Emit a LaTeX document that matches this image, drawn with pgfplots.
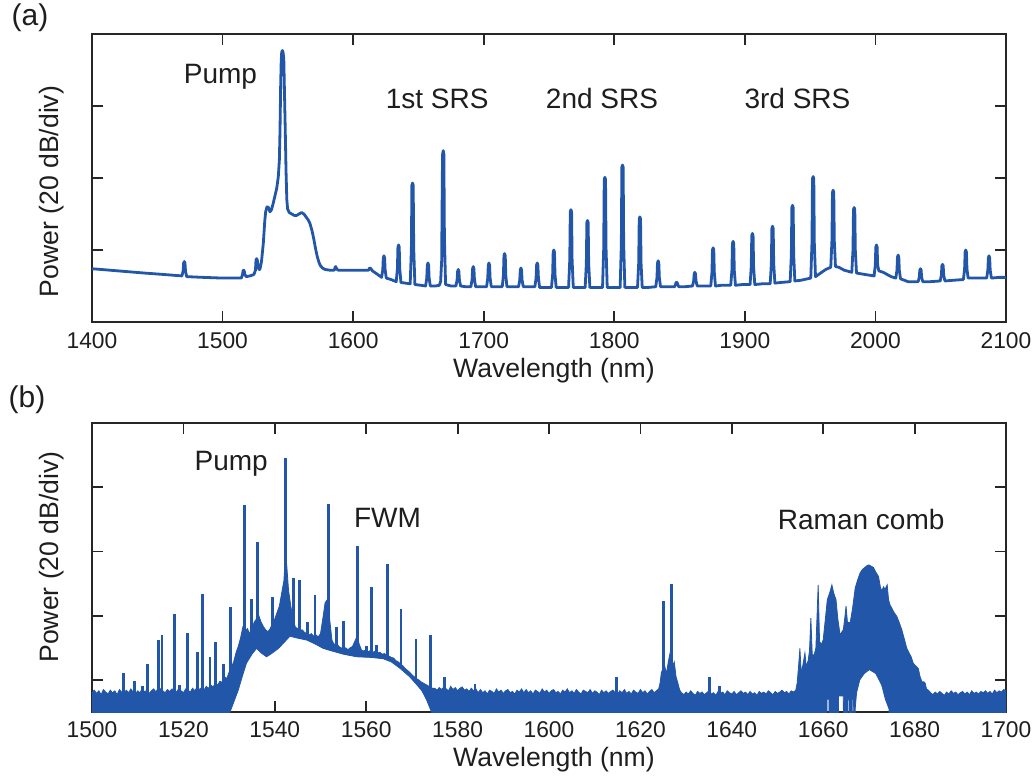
\documentclass[border=0pt]{standalone}
\usepackage{fontspec}
\setmainfont{Liberation Sans}
\usepackage{pgfplots}
\pgfplotsset{compat=1.18}
\definecolor{lc}{RGB}{34,86,168}
\definecolor{axc}{RGB}{38,38,38}
\definecolor{txc}{RGB}{30,30,30}
\begin{document}
\begin{tikzpicture}
\useasboundingbox (-46pt,-33pt) rectangle (470.5pt,356pt);
\pgfplotsset{myax/.style={scale only axis, width=457pt,
  axis line style={draw=axc,line width=1pt},
  tick style={draw=axc,line width=0.9pt},
  tick align=inside, major tick length=5.5pt, minor tick num=0,
  yticklabels={},
  ticklabel style={font=\fontsize{11.4}{13}\selectfont, text=txc},
  /pgf/number format/assume math mode=true,
  /pgf/number format/1000 sep={},
  clip=true}}
% ---------------- panel (a)
\begin{axis}[myax, at={(0,195pt)}, height=144pt,
  xmin=1400, xmax=2100, ymin=0, ymax=4,
  xtick={1400,1500,...,2100}, ytick={1,2,3},
  xticklabel style={anchor=base, yshift=-13pt}]
\addplot[lc, line width=1.4pt, line join=round] coordinates {
(1400,0.74) (1420,0.71) (1440,0.68) (1455,0.66) (1468.9,0.64)
(1469.8,0.71) (1470.2,0.82) (1470.7,0.84) (1471.2,0.82) (1471.6,0.71) (1472.5,0.63)
(1485,0.62) (1500,0.61) (1514.4,0.61)
(1515.3,0.66) (1515.7,0.71) (1516.2,0.72) (1516.7,0.70) (1517.1,0.66) (1518,0.63)
(1521,0.64) (1524.0,0.66) (1525.2,0.72) (1525.6,0.86) (1526.1,0.88) (1526.6,0.86) (1527.1,0.78) (1527.8,0.73) (1528.6,0.73)
(1529.8,0.84) (1531.2,1.09) (1532.3,1.40) (1533.0,1.53) (1534.0,1.60) (1535.2,1.59) (1536.3,1.53) (1537.5,1.56) (1538.8,1.65) (1540.1,1.75) (1541.5,1.86) (1542.7,2.02) (1543.5,2.25) (1544.0,2.67) (1544.5,3.30) (1544.9,3.62) (1545.3,3.75) (1545.8,3.77) (1546.3,3.75) (1546.9,3.65) (1547.4,3.20) (1548.0,2.67) (1548.6,2.10) (1549.2,1.70) (1549.8,1.57) (1551.1,1.52) (1553.0,1.50) (1555.0,1.48) (1556.7,1.48) (1558.5,1.50) (1560.5,1.52) (1562.3,1.50) (1563.9,1.46) (1565.5,1.42) (1566.9,1.37) (1568.5,1.27) (1570.0,1.14) (1571.2,1.02) (1572.5,0.91) (1573.8,0.83) (1575.0,0.78) (1576.5,0.75) (1578.4,0.73) (1582,0.72) (1585.6,0.72)
(1586.2,0.76) (1586.7,0.77) (1587.3,0.74) (1588.5,0.72)
(1600,0.72) (1611.8,0.72) (1612.6,0.75) (1613.4,0.745) (1614.8,0.71) (1618,0.67) (1621.8,0.62)
(1622.7,0.725) (1623.1,0.89) (1623.6,0.92) (1624.1,0.89) (1624.5,0.725) (1625.4,0.61)
(1629,0.59) (1633,0.56)
(1633.9,0.74) (1634.3,1.04) (1634.8,1.07) (1635.3,1.04) (1635.7,0.74) (1636.6,0.55)
(1640,0.54) (1643.7,0.53)
(1644.6,1.01) (1645.0,1.90) (1645.5,1.93) (1646.0,1.90) (1646.4,1.01) (1647.3,0.52)
(1652,0.51) (1655.5,0.50)
(1656.4,0.61) (1656.8,0.79) (1657.3,0.82) (1657.8,0.79) (1658.2,0.61) (1659.1,0.50)
(1663,0.50) (1666.0,0.51) (1667.0,0.56)
(1667.8,0.85) (1668.3,2.0) (1668.5,2.33) (1669.0,2.38) (1669.5,2.33) (1669.9,1.17) (1670.8,0.52)
(1675,0.50) (1678.7,0.50)
(1679.6,0.58) (1680.0,0.70) (1680.5,0.73) (1681.0,0.70) (1681.4,0.58) (1682.3,0.50)
(1686,0.49) (1690.2,0.49)
(1691.1,0.59) (1691.5,0.74) (1692.0,0.77) (1692.5,0.74) (1692.9,0.59) (1693.8,0.49)
(1698,0.49) (1702.2,0.49)
(1703.1,0.61) (1703.5,0.79) (1704.0,0.82) (1704.5,0.79) (1704.9,0.61) (1705.8,0.49)
(1710,0.49) (1714.2,0.49)
(1715.1,0.65) (1715.5,0.92) (1716,0.95) (1716.5,0.92) (1716.9,0.65) (1717.8,0.49)
(1722,0.49) (1726.7,0.49)
(1727.6,0.58) (1728,0.72) (1728.5,0.75) (1729,0.72) (1729.4,0.58) (1730.3,0.49)
(1735,0.49) (1739.2,0.49)
(1740.1,0.61) (1740.5,0.79) (1741,0.82) (1741.5,0.79) (1741.9,0.61) (1742.8,0.48)
(1747,0.48) (1751.9,0.48)
(1752.8,0.66) (1753.2,0.97) (1753.7,1.0) (1754.2,0.97) (1754.6,0.66) (1755.5,0.48)
(1760,0.48) (1765,0.48)
(1765.9,0.86) (1766.3,1.53) (1766.8,1.56) (1767.3,1.53) (1767.7,0.86) (1768.6,0.48)
(1773,0.48) (1777.7,0.48)
(1778.6,0.81) (1779,1.38) (1779.5,1.41) (1780,1.38) (1780.4,0.81) (1781.3,0.48)
(1786,0.48) (1791,0.48)
(1791.9,1.02) (1792.3,1.98) (1792.8,2.01) (1793.3,1.98) (1793.7,1.02) (1794.6,0.48)
(1800,0.48) (1804.5,0.48)
(1805.4,1.08) (1805.8,2.15) (1806.3,2.18) (1806.8,2.15) (1807.2,1.08) (1808.1,0.48)
(1813,0.48) (1817.8,0.48)
(1818.7,0.82) (1819.1,1.43) (1819.6,1.46) (1820.1,1.43) (1820.5,0.82) (1821.4,0.48)
(1826,0.48) (1831.8,0.49)
(1832.7,0.62) (1833.1,0.82) (1833.6,0.85) (1834.1,0.82) (1834.5,0.62) (1835.4,0.49)
(1840,0.49) (1846.2,0.49)
(1846.9,0.52) (1847.3,0.55) (1848.1,0.55) (1848.6,0.52) (1849.4,0.49)
(1854,0.49) (1859.9,0.50)
(1860.8,0.57) (1861.2,0.67) (1861.7,0.69) (1862.2,0.67) (1862.6,0.57) (1863.5,0.50)
(1868,0.50) (1873.9,0.50)
(1874.8,0.69) (1875.2,1.0) (1875.7,1.03) (1876.2,1.0) (1876.6,0.69) (1877.5,0.50)
(1882,0.51) (1889.2,0.51)
(1890.1,0.72) (1890.5,1.09) (1891,1.12) (1891.5,1.09) (1891.9,0.72) (1892.8,0.51)
(1898,0.52) (1904,0.52)
(1904.9,0.77) (1905.3,1.2) (1905.8,1.23) (1906.3,1.2) (1906.7,0.77) (1907.6,0.52)
(1913,0.53) (1919.4,0.53)
(1920.3,0.81) (1920.7,1.3) (1921.2,1.33) (1921.7,1.3) (1922.1,0.81) (1923,0.54)
(1928,0.55) (1934.7,0.56)
(1935.6,0.93) (1936,1.59) (1936.5,1.62) (1937,1.59) (1937.4,0.93) (1938.3,0.57)
(1943,0.58) (1948,0.60) (1950.5,0.61)
(1951.4,1.1) (1951.8,1.99) (1952.3,2.02) (1952.8,1.99) (1953.2,1.1) (1954.1,0.63)
(1958,0.68) (1962,0.73) (1965.8,0.76)
(1966.7,1.13) (1967.1,1.80) (1967.6,1.83) (1968.1,1.80) (1968.5,1.13) (1969.4,0.77)
(1972,0.76) (1976,0.72) (1980,0.70) (1981.9,0.69)
(1982.8,1.0) (1983.2,1.56) (1983.7,1.59) (1984.2,1.56) (1984.6,1.0) (1985.5,0.68)
(1992,0.66) (1999,0.64)
(1999.9,0.79) (2000.3,1.04) (2000.8,1.07) (2001.3,1.04) (2001.7,0.79) (2002.6,0.71)
(2006,0.69) (2012,0.63) (2015.6,0.61)
(2016.5,0.72) (2016.9,0.9) (2017.4,0.93) (2017.9,0.9) (2018.3,0.72) (2019.2,0.60)
(2025,0.56) (2032.7,0.56)
(2033.6,0.62) (2034,0.72) (2034.5,0.74) (2035,0.72) (2035.4,0.62) (2036.3,0.56)
(2042,0.56) (2049.6,0.57)
(2050.5,0.65) (2050.9,0.78) (2051.4,0.80) (2051.9,0.78) (2052.3,0.65) (2053.2,0.57)
(2060,0.58) (2067.4,0.59)
(2068.3,0.74) (2068.7,0.97) (2069.2,1.0) (2069.7,0.97) (2070.1,0.74) (2071,0.61)
(2078,0.61) (2085.2,0.61)
(2086.1,0.72) (2086.5,0.89) (2087,0.92) (2087.5,0.89) (2087.9,0.72) (2088.8,0.61)
(2095,0.62) (2100,0.62)
};
\end{axis}
% ---------------- panel (b)
\begin{axis}[myax, height=144.5pt,
  xmin=1500, xmax=1700, ymin=0, ymax=4.5,
  xtick={1500,1520,...,1700}, ytick={0.5,1.5,2.5,3.5},
  xticklabel style={anchor=base, yshift=-12.5pt}]
\addplot[fill=lc, draw=lc, line width=0.4pt] coordinates {
(1500,0.30) (1500.5,0.34) (1501,0.29) (1501.5,0.33) (1502,0.27) (1502.5,0.35) (1503,0.31) (1503.5,0.28) (1504,0.34) (1504.5,0.30)
(1505,0.33) (1505.5,0.27) (1506,0.35) (1506.5,0.31) (1507,0.29) (1507.5,0.34) (1508,0.30) (1508.5,0.36) (1509,0.31) (1509.5,0.28)
(1510,0.33) (1510.5,0.30) (1511,0.37) (1511.5,0.31) (1512,0.34) (1512.5,0.29) (1513,0.33) (1513.5,0.36) (1514,0.31) (1514.5,0.38)
(1515,0.36) (1515.5,0.33) (1516,0.30) (1516.5,0.35) (1517,0.32) (1517.5,0.36) (1518,0.34) (1518.5,0.31) (1519,0.37) (1519.5,0.33)
(1520,0.30) (1520.5,0.36) (1521,0.34) (1521.5,0.31) (1522,0.37) (1522.5,0.33) (1523,0.39) (1523.5,0.35) (1524,0.38) (1524.5,0.34)
(1525,0.40) (1525.5,0.37) (1526,0.42) (1526.5,0.39) (1527,0.45) (1527.5,0.42) (1528,0.48) (1528.5,0.46) (1529,0.55) (1529.5,0.52)
(1530,0.62) (1530.5,0.70) (1531,0.78) (1531.5,0.92) (1532,1.02) (1532.5,1.15) (1533,1.32) (1533.5,1.25) (1534,1.30) (1534.5,1.22)
(1535,1.30) (1535.5,1.40) (1536,1.45) (1536.5,1.50) (1537,1.40) (1537.5,1.33) (1538,1.28) (1538.5,1.25) (1539,1.30) (1539.5,1.38)
(1540,1.45) (1540.5,1.55) (1541,1.65) (1541.5,1.85) (1542,2.05) (1542.2,2.30) (1542.6,2.30) (1543,1.90) (1543.5,1.65) (1544,1.45)
(1544.5,1.32) (1545,1.30) (1545.5,1.27) (1546,1.28) (1546.5,1.24) (1547,1.22) (1547.5,1.20) (1548,1.22) (1548.5,1.18) (1549,1.20)
(1549.5,1.17) (1550,1.22) (1550.5,1.45) (1551,1.70) (1551.5,1.75) (1552,1.45) (1552.5,1.12) (1553,1.05) (1553.5,1.08) (1554,1.02)
(1554.5,1.00) (1555,0.98) (1555.5,1.00) (1556,0.97) (1556.5,1.00) (1557,1.02) (1557.5,1.10) (1558,1.18) (1558.5,1.05) (1559,0.96)
(1559.5,0.95) (1560,0.97) (1560.5,0.94) (1561,0.96) (1561.5,0.93) (1562,0.95) (1562.5,0.92) (1563,0.93) (1563.5,0.90) (1564,0.91)
(1564.5,0.88) (1565,0.87) (1565.5,0.85) (1566,0.84) (1566.5,0.80) (1567,0.78) (1567.5,0.75) (1568,0.72) (1568.5,0.68) (1569,0.65)
(1569.5,0.62) (1570,0.58) (1570.5,0.55) (1571,0.52) (1571.5,0.50) (1572,0.47) (1572.5,0.45) (1573,0.43) (1573.5,0.41) (1574,0.39)
(1574.5,0.37) (1575.0,0.37) (1575.5,0.34) (1576.0,0.38) (1576.5,0.35) (1577.0,0.39) (1577.5,0.36) (1578.0,0.33) (1578.5,0.40) (1579.0,0.35)
(1579.5,0.38) (1580.0,0.33) (1580.5,0.37) (1581.0,0.39) (1581.5,0.34) (1582.0,0.36) (1582.5,0.32) (1583.0,0.37) (1583.5,0.33) (1584.0,0.36)
(1584.5,0.30) (1585.0,0.35) (1585.5,0.30) (1586.0,0.33) (1586.5,0.28) (1587.0,0.34) (1587.5,0.32) (1588.0,0.29) (1588.5,0.36) (1589.0,0.31)
(1589.5,0.34) (1590.0,0.29) (1590.5,0.33) (1591.0,0.35) (1591.5,0.30) (1592.0,0.32) (1592.5,0.28) (1593.0,0.34) (1593.5,0.31) (1594.0,0.36)
(1594.5,0.30) (1595.0,0.35) (1595.5,0.30) (1596.0,0.33) (1596.5,0.28) (1597.0,0.34) (1597.5,0.32) (1598.0,0.29) (1598.5,0.36) (1599.0,0.31)
(1599.5,0.34) (1600.0,0.29) (1600.5,0.33) (1601.0,0.35) (1601.5,0.30) (1602.0,0.32) (1602.5,0.28) (1603.0,0.34) (1603.5,0.31) (1604.0,0.36)
(1604.5,0.30) (1605.0,0.33) (1605.5,0.29) (1606.0,0.35) (1606.5,0.31) (1607.0,0.28) (1607.5,0.34) (1608.0,0.32) (1608.5,0.30) (1609.0,0.35)
(1609.5,0.29) (1610.0,0.33) (1610.5,0.31) (1611.0,0.27) (1611.5,0.34) (1612.0,0.30) (1612.5,0.33) (1613.0,0.29) (1613.5,0.32) (1614.0,0.34)
(1614.5,0.30) (1615.0,0.28) (1615.5,0.33) (1616.0,0.30) (1616.5,0.35) (1617.0,0.29) (1617.5,0.32) (1618.0,0.28) (1618.5,0.34) (1619.0,0.31)
(1619.5,0.29) (1620.0,0.35) (1620.5,0.30) (1621.0,0.33) (1621.5,0.28) (1622.0,0.32) (1622.5,0.35) (1623.0,0.30) (1623.5,0.33) (1624.0,0.36)
(1624.3,0.45) (1624.6,0.62) (1624.9,0.55) (1625.3,0.72) (1625.7,0.60) (1626.1,0.78) (1626.5,0.92) (1627.0,0.70) (1627.4,0.78) (1627.8,0.55)
(1628.2,0.45) (1628.6,0.34) (1629.0,0.30)
(1629.5,0.27) (1630,0.31) (1630.5,0.28) (1631,0.33) (1631.5,0.29) (1632,0.26) (1632.5,0.32) (1633,0.29) (1633.5,0.31) (1634,0.27)
(1634.5,0.30) (1635,0.33) (1635.5,0.28) (1636,0.30) (1636.5,0.26) (1637,0.32) (1637.5,0.29) (1638,0.31) (1638.5,0.27) (1639,0.33)
(1639.5,0.30) (1640,0.28) (1640.5,0.32) (1641,0.27) (1641.5,0.30) (1642,0.33) (1642.5,0.29) (1643,0.31) (1643.5,0.27) (1644,0.32)
(1644.5,0.28) (1645,0.30) (1645.5,0.26) (1646,0.32) (1646.5,0.29) (1647,0.31) (1647.5,0.28) (1648,0.33) (1648.5,0.30) (1649,0.27)
(1649.5,0.32) (1650,0.29) (1650.5,0.31) (1651,0.34) (1651.5,0.30) (1652,0.32) (1652.5,0.28) (1653,0.33) (1653.5,0.31)
(1654.0,0.34) (1654.3,0.45) (1654.6,0.70) (1654.9,0.99) (1655.2,0.60) (1655.6,0.75) (1656.0,0.92) (1656.3,0.70) (1656.7,0.80) (1657.0,0.95)
(1657.3,1.46) (1657.6,0.90) (1658.0,0.88) (1658.4,1.00) (1658.9,1.98) (1659.2,1.10) (1659.6,1.05) (1660.0,1.125) (1660.4,1.40) (1660.9,1.75)
(1661.4,1.85) (1661.9,1.98) (1662.3,1.85) (1662.8,1.75) (1663.2,1.45) (1663.7,1.20) (1664.1,1.25) (1664.4,1.28) (1664.7,1.45) (1665.0,1.65)
(1665.3,1.40) (1665.9,1.39) (1666.4,1.60) (1667.0,1.93) (1667.5,2.05) (1668.1,2.17) (1668.6,2.22) (1669.1,2.25) (1669.6,2.28) (1670.0,2.29)
(1670.5,2.27) (1671.0,2.25) (1671.5,2.18) (1672.1,2.11) (1672.5,1.95) (1672.8,1.88) (1673.2,1.95) (1673.5,1.91) (1674.0,1.98) (1674.3,1.75)
(1674.6,1.67) (1675.0,1.62) (1675.5,1.55) (1676.1,1.49) (1676.6,1.40) (1677.2,1.28) (1677.7,1.15) (1678.3,0.99) (1678.8,0.92) (1679.3,0.85)
(1679.7,0.76) (1680.2,0.72) (1680.8,0.68) (1681.2,0.55) (1681.6,0.47) (1682.0,0.47) (1682.3,0.45) (1682.6,0.36) (1683.0,0.34)
(1683.5,0.30) (1684,0.27) (1684.5,0.31) (1685,0.28) (1685.5,0.32) (1686,0.29) (1686.5,0.26) (1687,0.31) (1687.5,0.28) (1688,0.33)
(1688.5,0.29) (1689,0.31) (1689.5,0.27) (1690,0.30) (1690.5,0.32) (1691,0.28) (1691.5,0.31) (1692,0.27) (1692.5,0.33) (1693,0.29)
(1693.5,0.31) (1694,0.28) (1694.5,0.32) (1695,0.30) (1695.5,0.33) (1696,0.29) (1696.5,0.32) (1697,0.28) (1697.5,0.34) (1698,0.30)
(1698.5,0.33) (1699,0.31) (1699.5,0.35) (1700,0.33)
(1700,-0.3) (1674.5,-0.3) (1674.4,0.05) (1673.6,0.2) (1672.8,0.42) (1671.5,0.6) (1670.1,0.66) (1669,0.6) (1668,0.5) (1667.3,0.3) (1667.0,0.05) (1666.95,-0.3)
(1666.7,-0.3) (1666.65,0.2) (1666.35,0.2) (1666.3,-0.3)
(1665.8,-0.3) (1665.75,0.2) (1665.45,0.2) (1665.4,-0.3)
(1664.45,-0.3) (1664.4,0.25) (1663.35,0.25) (1663.3,-0.3)
(1661.3,-0.3) (1661.25,0.2) (1660.85,0.2) (1660.8,-0.3)
(1574.4,-0.3) (1574.3,0.0) (1573.2,0.19) (1572.2,0.33) (1571,0.43) (1569.5,0.55) (1567.4,0.68) (1565.5,0.78) (1563.7,0.83) (1561,0.85)
(1557.9,0.86) (1555,0.90) (1552.5,0.95) (1550.6,0.99) (1548.8,1.06) (1547,1.12) (1545,1.15) (1543.3,1.18) (1542,1.08) (1540.8,0.99)
(1539.5,0.92) (1538.2,0.86) (1537,0.92) (1536,0.99) (1535,0.9) (1533.8,0.76) (1533,0.58) (1532,0.34) (1531,0.15) (1530.2,0.0)
(1530.1,-0.3) (1500,-0.3)
};
\addplot[lc, line width=1.4pt, unbounded coords=jump] coordinates {
(1506.9,0.2) (1506.9,0.60) (1506.9,nan)
(1509.3,0.2) (1509.3,0.49) (1509.3,nan)
(1511.0,0.2) (1511.0,0.40) (1511.0,nan)
(1512.1,0.2) (1512.1,0.75) (1512.1,nan)
(1514.5,0.2) (1514.5,1.125) (1514.5,nan)
(1515.3,0.2) (1515.3,1.20) (1515.3,nan)
(1518.0,0.2) (1518.0,1.52) (1518.0,nan)
(1519.1,0.2) (1519.1,0.42) (1519.1,nan)
(1520.9,0.2) (1520.9,1.23) (1520.9,nan)
(1523.0,0.2) (1523.0,0.93) (1523.0,nan)
(1524.1,0.2) (1524.1,1.84) (1524.1,nan)
(1525.8,0.2) (1525.8,0.85) (1525.8,nan)
(1527.1,0.2) (1527.1,1.09) (1527.1,nan)
(1528.7,0.2) (1528.7,0.74) (1528.7,nan)
(1530.3,0.3) (1530.3,1.64) (1530.3,nan)
(1533.3,0.9) (1533.3,3.22) (1533.3,nan)
(1534.9,1.0) (1534.9,1.76) (1534.9,nan)
(1536.2,1.1) (1536.2,2.64) (1536.2,nan)
(1539.5,1.1) (1539.5,1.79) (1539.5,nan)
(1542.4,1.5) (1542.4,3.96) (1542.4,nan)
(1544.1,1.3) (1544.1,2.08) (1544.1,nan)
(1545.4,1.2) (1545.4,2.05) (1545.4,nan)
(1547.2,1.15) (1547.2,1.40) (1547.2,nan)
(1548.8,1.1) (1548.8,1.82) (1548.8,nan)
(1551.7,1.2) (1551.7,3.24) (1551.7,nan)
(1553.5,1.0) (1553.5,1.32) (1553.5,nan)
(1555.1,0.95) (1555.1,1.41) (1555.1,nan)
(1558.1,0.9) (1558.1,2.59) (1558.1,nan)
(1560.0,0.9) (1560.0,1.02) (1560.0,nan)
(1561.2,0.9) (1561.2,1.94) (1561.2,nan)
(1562.3,0.88) (1562.3,1.05) (1562.3,nan)
(1564.6,0.86) (1564.6,2.31) (1564.6,nan)
(1567.6,0.72) (1567.6,1.61) (1567.6,nan)
(1570.9,0.5) (1570.9,1.14) (1570.9,nan)
(1574.0,0.3) (1574.0,1.20) (1574.0,nan)
(1577.1,0.2) (1577.1,0.54) (1577.1,nan)
(1583.8,0.2) (1583.8,0.44) (1583.8,nan)
(1614.8,0.2) (1614.8,0.54) (1614.8,nan)
(1625.0,0.2) (1625.0,1.73) (1625.0,nan)
(1626.8,0.2) (1626.8,2.00) (1626.8,nan)
(1635.2,0.2) (1635.2,0.55) (1635.2,nan)
(1637.3,0.2) (1637.3,0.41) (1637.3,nan)
};
\end{axis}
% ---------------- texts
\node[font=\fontsize{15}{17}\selectfont, text=txc] at (-31pt,347pt) {(a)};
\node[font=\fontsize{15}{17}\selectfont, text=txc] at (-32.5pt,156pt) {(b)};
\node[font=\fontsize{13.3}{15}\selectfont, text=txc, rotate=90] at (-20pt,260.25pt) {Power (20 dB/div)};
\node[font=\fontsize{13.3}{15}\selectfont, text=txc, rotate=90] at (-20pt,77.5pt) {Power (20 dB/div)};
\node[font=\fontsize{13.3}{15}\selectfont, text=txc] at (231pt,170.5pt) {Wavelength (nm)};
\node[font=\fontsize{13.3}{15}\selectfont, text=txc] at (231pt,-24pt) {Wavelength (nm)};
\node[font=\fontsize{14}{16}\selectfont, text=txc, anchor=base] at (64.25pt,314.35pt) {Pump};
\node[font=\fontsize{14}{16}\selectfont, text=txc, anchor=base] at (172.6pt,301.5pt) {1st SRS};
\node[font=\fontsize{14}{16}\selectfont, text=txc, anchor=base] at (255pt,301.5pt) {2nd SRS};
\node[font=\fontsize{14}{16}\selectfont, text=txc, anchor=base] at (352.75pt,301.5pt) {3rd SRS};
\node[font=\fontsize{14}{16}\selectfont, text=txc, anchor=base] at (69.6pt,121pt) {Pump};
\node[font=\fontsize{14}{16}\selectfont, text=txc, anchor=base] at (147.75pt,92.2pt) {FWM};
\node[font=\fontsize{14}{16}\selectfont, text=txc, anchor=base] at (384.6pt,91.3pt) {Raman comb};
\end{tikzpicture}
\end{document}
